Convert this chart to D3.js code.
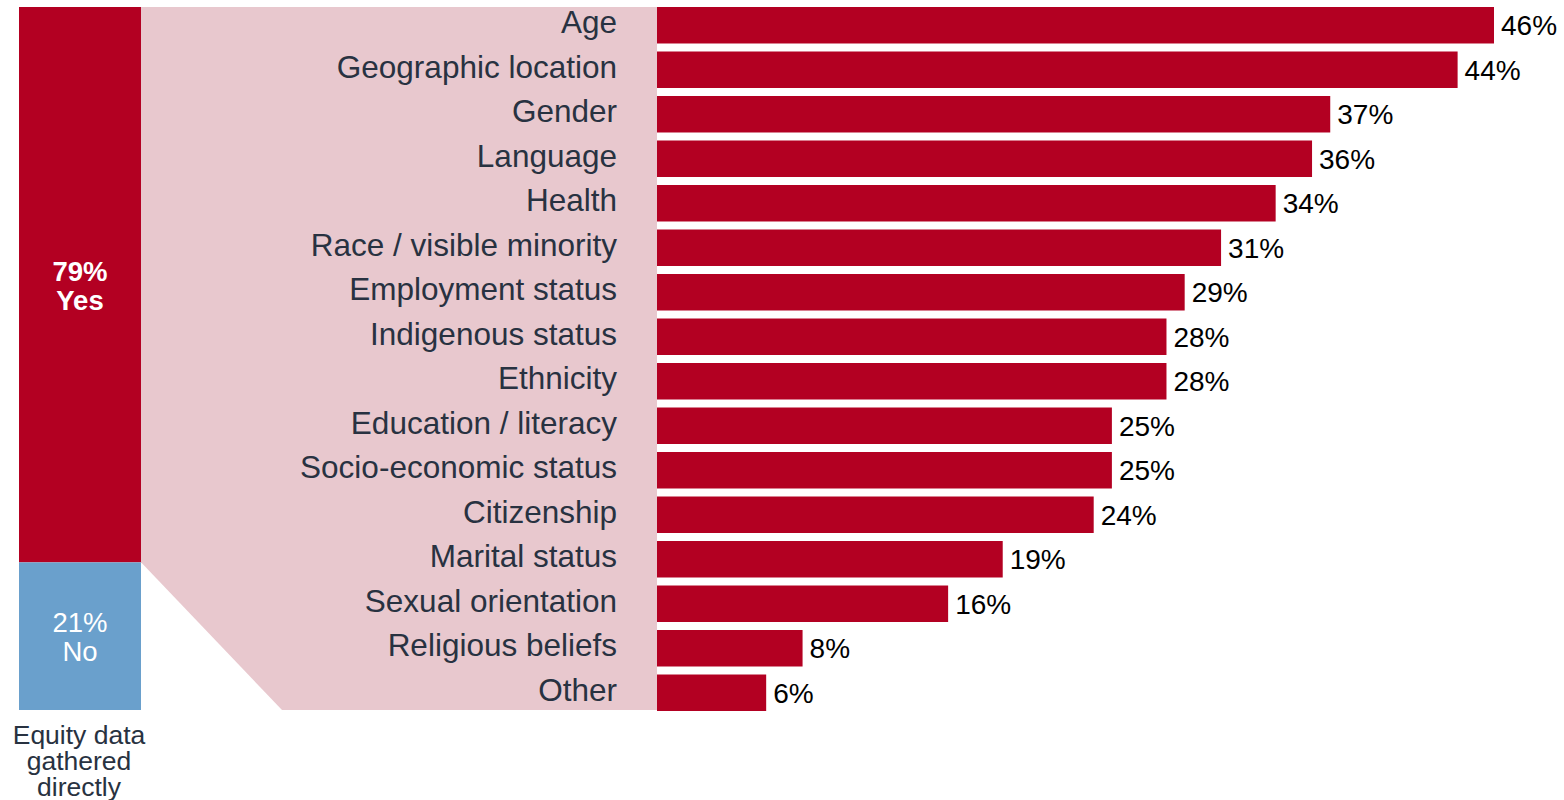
<!DOCTYPE html>
<html>
<head>
<meta charset="utf-8">
<script src="https://cdn.jsdelivr.net/npm/d3@7"></script>
<style>
  html, body { margin: 0; padding: 0; background: #fff; }
  svg { display: block; font-family: "Liberation Sans", Arial, sans-serif; }
</style>
</head>
<body>
<svg id="chart" width="1564" height="800"></svg>
<script>
// Categories of equity data collected, with share of respondents (%)
const categories = [
  "Age", "Geographic location", "Gender", "Language", "Health",
  "Race / visible minority", "Employment status", "Indigenous status",
  "Ethnicity", "Education / literacy", "Socio-economic status",
  "Citizenship", "Marital status", "Sexual orientation",
  "Religious beliefs", "Other"
];
const values = [46, 44, 37, 36, 34, 31, 29, 28, 28, 25, 25, 24, 19, 16, 8, 6];

// Overall split: equity data gathered directly
const splitLabels = ["Yes", "No"];
const splitValues = [79, 21];
const footLines = ["Equity data", "gathered", "directly"];

const RED = "#B30022", PINK = "#E8C8CE", BLUE = "#6AA0CC";
const TEXT = "#283241";

const svg = d3.select("#chart");

const yTop = 7, yBottom = 710;
const barX0 = 657;

// Horizontal bars
const x = d3.scaleLinear().domain([0, 46]).range([barX0, 1494]);
const y = d3.scaleBand().domain(categories).range([yTop, yBottom + 1]).paddingInner(0.18).paddingOuter(0);

// Stacked split column
const sy = d3.scaleLinear().domain([0, 100]).range([yTop, yBottom]);
const colX0 = 19, colX1 = 141;
const yesBottom = sy(splitValues[0]);

// Pink connector band from the "Yes" segment to the category list
const band = [
  [colX1, yTop], [barX0, yTop], [barX0, yBottom],
  [282, yBottom], [colX1, yesBottom]
];
svg.append("path")
  .attr("d", d3.line()(band) + "Z")
  .attr("fill", PINK);

// Split column segments
let acc = 0;
const segs = splitValues.map((v, i) => {
  const s = { label: splitLabels[i], value: v, y0: acc, y1: acc + v };
  acc += v;
  return s;
});
svg.selectAll("rect.seg").data(segs).join("rect")
  .attr("class", "seg")
  .attr("x", colX0)
  .attr("width", colX1 - colX0)
  .attr("y", d => sy(d.y0))
  .attr("height", d => sy(d.y1) - sy(d.y0))
  .attr("fill", (d, i) => i === 0 ? RED : BLUE);

const segText = svg.selectAll("text.seg").data(segs).join("text")
  .attr("class", "seg")
  .attr("text-anchor", "middle")
  .attr("fill", "#fff")
  .attr("font-size", 27.5)
  .attr("font-weight", (d, i) => i === 0 ? "bold" : "normal")
  .attr("transform", d => `translate(${(colX0 + colX1) / 2},${(sy(d.y0) + sy(d.y1)) / 2})`);
segText.append("tspan").attr("x", 0).attr("y", -4).text(d => d.value + "%");
segText.append("tspan").attr("x", 0).attr("y", 25).text(d => d.label);

// Column caption
svg.append("text")
  .attr("text-anchor", "middle")
  .attr("fill", TEXT)
  .attr("font-size", 26.5)
  .selectAll("tspan").data(footLines).join("tspan")
  .attr("x", (colX0 + colX1) / 2 - 1)
  .attr("y", (d, i) => 744 + i * 26)
  .text(d => d);

// Bars
svg.selectAll("rect.bar").data(values).join("rect")
  .attr("class", "bar")
  .attr("x", barX0)
  .attr("y", (d, i) => y(categories[i]))
  .attr("width", d => x(d) - barX0)
  .attr("height", y.bandwidth())
  .attr("fill", RED);

// Category labels
svg.selectAll("text.cat").data(categories).join("text")
  .attr("class", "cat")
  .attr("x", 617)
  .attr("y", d => y(d) + y.bandwidth() / 2 - 3)
  .attr("dy", "0.35em")
  .attr("text-anchor", "end")
  .attr("font-size", 31.5)
  .attr("fill", TEXT)
  .text(d => d);

// Value labels
svg.selectAll("text.val").data(values).join("text")
  .attr("class", "val")
  .attr("x", d => x(d) + 7)
  .attr("y", (d, i) => y(categories[i]) + y.bandwidth() / 2)
  .attr("dy", "0.35em")
  .attr("font-size", 28)
  .attr("fill", "#000")
  .text(d => d + "%");
</script>
</body>
</html>
